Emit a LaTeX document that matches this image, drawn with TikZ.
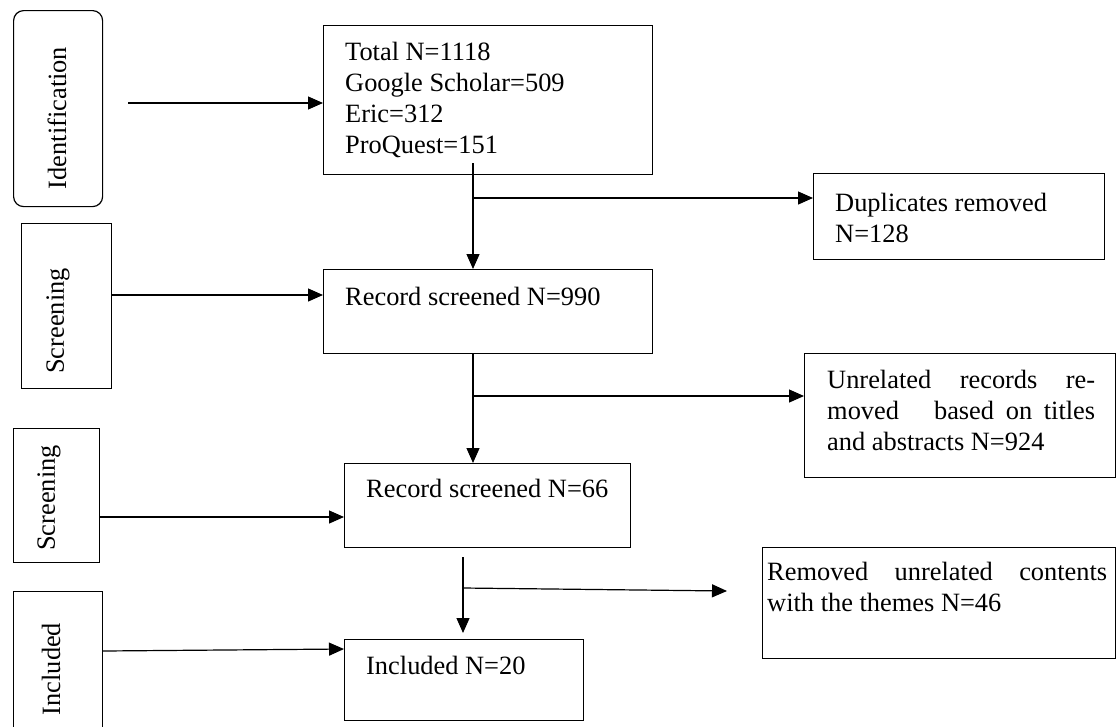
\documentclass[tikz,border=0pt]{standalone}
\usepackage{fontspec}
\setmainfont{Liberation Serif}
\usetikzlibrary{arrows.meta}
\begin{document}
\begin{tikzpicture}[x=1pt,y=-1pt,
  box/.style={draw, line width=1.2pt, inner sep=0pt, anchor=north west},
  lbl/.style={font=\fontsize{26.4}{30.8}\selectfont, inner sep=0pt},
  txt/.style={lbl, anchor=base west, align=left},
  arr/.style={line width=1.2pt, -{Triangle[length=15pt,width=13pt]}}]
\clip (0,0) rectangle (1118,726);
\fill[white] (0,0) rectangle (1118,726);
% stage boxes
\node[box, rounded corners=10pt, minimum width=89pt, minimum height=196pt] (ident) at (13,10) {};
\node[box, minimum width=90pt, minimum height=165pt] (scr1) at (21,223) {};
\node[box, minimum width=86pt, minimum height=134pt] (scr2) at (13,428) {};
\node[box, minimum width=89pt, minimum height=160pt] (incl) at (13,591) {};
\node[lbl, rotate=90] (tident) at (57,118) {Identification};
\node[lbl, rotate=90] (tscr1) at (58,321) {Screening};
\node[lbl, rotate=90] (tscr2) at (49,498) {Screening};
\node[lbl, rotate=90] (tincl) at (51,669) {Included};
% main boxes
\node[box, minimum width=329pt, minimum height=149pt] (total) at (323,25) {};
\node[box, minimum width=291pt, minimum height=86pt] (dup) at (813,173) {};
\node[box, minimum width=329pt, minimum height=84pt] (rec990) at (323,269) {};
\node[box, minimum width=311pt, minimum height=124pt] (unrel) at (804,353) {};
\node[box, minimum width=286pt, minimum height=84pt] (rec66) at (344,463) {};
\node[box, minimum width=353pt, minimum height=111pt] (rem) at (762,547) {};
\node[box, minimum width=239pt, minimum height=81pt] (inc20) at (344,639) {};
% texts (multi-line nodes are anchored on their last baseline)
\node[txt] (ttotal) at (345,153) {Total N=1118\\Google Scholar=509\\Eric=312\\ProQuest=151};
\node[txt] (tdup) at (835,242) {Duplicates removed\\N=128};
\node[txt] (t990) at (345,305) {Record screened N=990};
\node[txt] (tunrel) at (827,450) {\hbox to 268pt{Unrelated\hfill records\hfill re-}\\\hbox to 268pt{moved\hfill\hfill\hfill based\hfill on\hfill titles}\\and abstracts N=924};
\node[txt] (t66) at (366,497) {Record screened N=66};
\node[txt] (trem) at (767,611) {\hbox to 340pt{Removed\hfill unrelated\hfill contents}\\with the themes N=46};
\node[txt] (t20) at (366,674) {Included N=20};
% connectors
\coordinate (s1) at (128,103);
\draw[arr] (s1) -- (s1 -| total.west);
\coordinate (s2) at (0,295);
\draw[arr] (scr1.east |- s2) -- (rec990.west |- s2);
\coordinate (s3) at (0,517);
\draw[arr] (scr2.east |- s3) -- (rec66.west |- s3);
\coordinate (s4a) at (0,651);
\coordinate (s4b) at (0,649);
\draw[arr] (incl.east |- s4a) -- (inc20.west |- s4b);
\coordinate (v1) at (473,163);
\draw[arr] (v1) -- (v1 |- rec990.north);
\coordinate (b1) at (473,198);
\draw[arr] (b1) -- (b1 -| dup.west);
\draw[arr] (v1 |- rec990.south) -- (v1 |- rec66.north);
\coordinate (b2) at (473,396);
\draw[arr] (b2) -- (b2 -| unrel.west);
\coordinate (v3) at (463,557);
\coordinate (v3e) at (463,633);
\draw[arr] (v3) -- (v3e);
\coordinate (b3) at (463,588);
\coordinate (b3e) at (727,591);
\draw[arr] (b3) -- (b3e);
\end{tikzpicture}
\end{document}
